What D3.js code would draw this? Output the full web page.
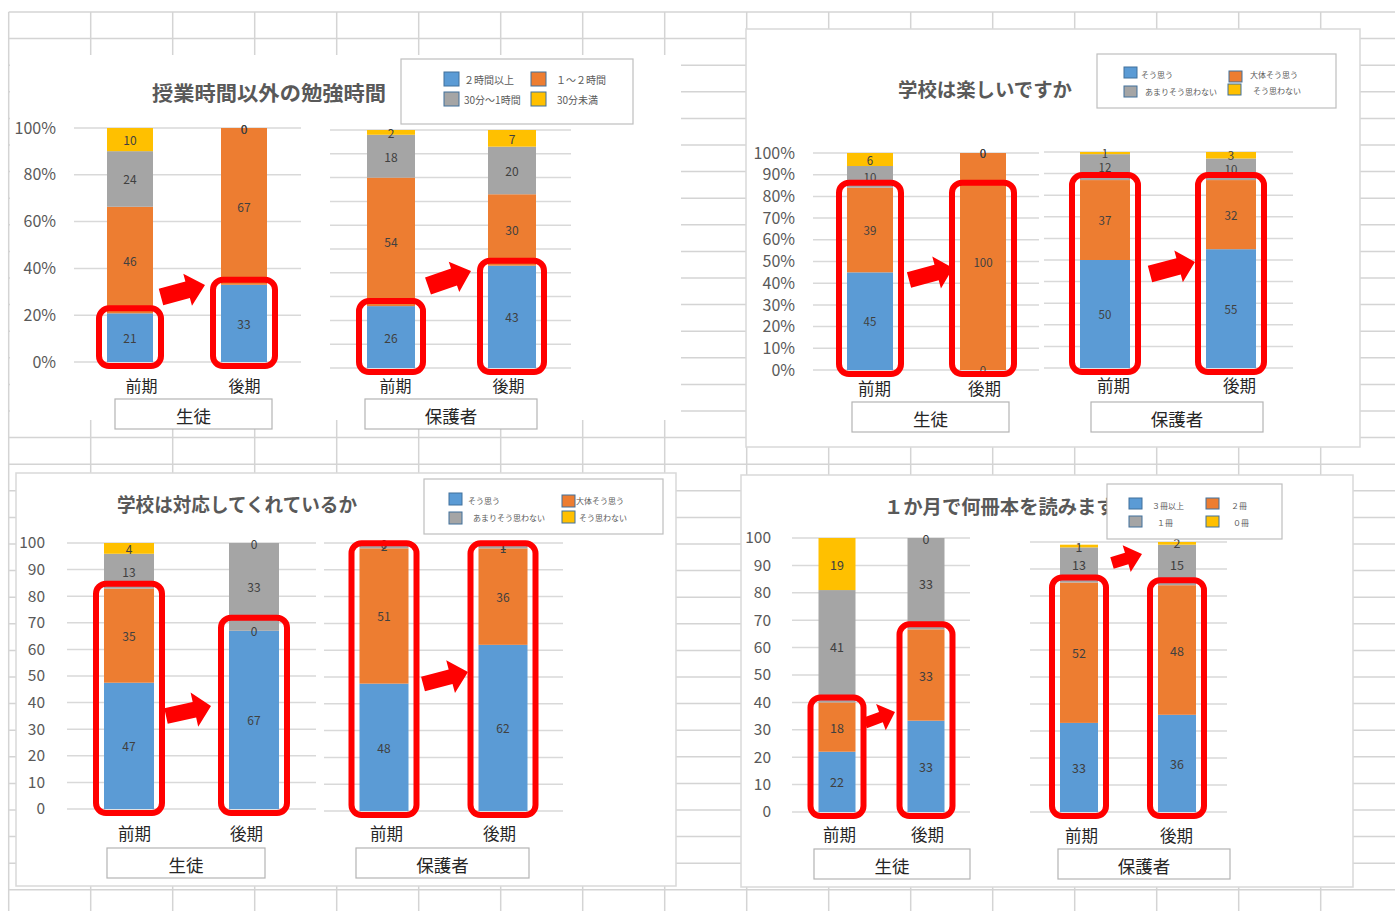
<!DOCTYPE html>
<html><head><meta charset="utf-8">
<script src="https://cdn.jsdelivr.net/npm/d3@7"></script>
<style>
html,body{margin:0;padding:0;background:#fff;}
svg{display:block;font-family:"Noto Sans CJK JP","Noto Sans",sans-serif;}
</style></head><body>
<svg id="c" width="1395" height="911"></svg>
<script>
// ---------- DATA ----------
const periods = ["前期", "後期"];
const groups = ["生徒", "保護者"];

const studyTitle = "授業時間以外の勉強時間";
const studyKeys = ["２時間以上", "１～２時間", "30分～1時間", "30分未満"];
const studyStudent = [[21, 46, 24, 10], [33, 67, 0, 0]];
const studyParent = [[26, 54, 18, 2], [43, 30, 20, 7]];

const enjoyTitle = "学校は楽しいですか";
const enjoyKeys = ["そう思う", "大体そう思う", "あまりそう思わない", "そう思わない"];
const enjoyStudent = [[45, 39, 10, 6], [0, 100, 0, 0]];
const enjoyParent = [[50, 37, 12, 1], [55, 32, 10, 3]];

const supportTitle = "学校は対応してくれているか";
const supportKeys = ["そう思う", "大体そう思う", "あまりそう思わない", "そう思わない"];
const supportStudent = [[47, 35, 13, 4], [67, 0, 33, 0]];
const supportParent = [[48, 51, 2, 0], [62, 36, 1, 1]];

const booksTitle = "１か月で何冊本を読みますか";
const booksKeys = ["３冊以上", "２冊", "１冊", "０冊"];
const booksStudent = [[22, 18, 41, 19], [33, 33, 33, 0]];
const booksParent = [[33, 52, 13, 1], [36, 48, 15, 2]];

// ---------- LAYOUT ----------
const colors = ["#5b9bd5", "#ed7d31", "#a5a5a5", "#ffc000"];
const svg = d3.select("#c");

const panels = [
  { title: studyTitle, keys: studyKeys, data: [studyStudent, studyParent],
    box: { x: 10, y: 55, w: 671, h: 365, stroke: "none" },
    titlePos: { x: 152, y: 92, len: 234, size: 20 },
    legend: { x: 401, y: 59, w: 232, h: 65, sq: [15, 14], size: 10,
      sqPos: [[444, 72], [531, 72], [444, 92], [531, 92]],
      txPos: [[464, 79], [556, 79], [464, 99], [557, 99]] },
    axisSize: 16, lblSize: 12, xlSize: 16,
    charts: [
      { x0: 74, x1: 301, y0: 362, y1: 128, step: 20, axisX: 56, pct: true, centers: [130, 244], bw: 46, norm: true, lblY: 385, lblDx: [11, 0], cat: { x: 115, y: 399, w: 157, h: 30 } },
      { x0: 330, x1: 571, y0: 368, y1: 130, step: 10, axisX: null, pct: true, centers: [391, 512], bw: 48, norm: true, lblY: 385, lblDx: [4, -4], cat: { x: 365, y: 399, w: 172, h: 30 } }
    ],
    hl: [[0, 0, 1], [0, 1, 1], [1, 0, 1], [1, 1, 1]],
    arrows: [ { t: [161, 297], h: [205, 285], s: 17, w: 33, hl: 18 },
              { t: [428, 286], h: [471, 271], s: 18, w: 32, hl: 18 } ] },

  { title: enjoyTitle, keys: enjoyKeys, data: [enjoyStudent, enjoyParent],
    box: { x: 746, y: 29, w: 614, h: 418, stroke: "#d9d9d9" },
    titlePos: { x: 898, y: 88, len: 174, size: 19 },
    legend: { x: 1097, y: 54, w: 239, h: 54, sq: [13, 11], size: 8,
      sqPos: [[1124, 67], [1229, 71], [1124, 86], [1228, 84]],
      txPos: [[1141, 74], [1250, 74], [1145, 91], [1253, 90]] },
    axisSize: 16, lblSize: 11.5, xlSize: 16.5,
    charts: [
      { x0: 813, x1: 1039, y0: 370, y1: 153, step: 10, axisX: 795, pct: true, centers: [870, 983], bw: 46, norm: true, lblY: 388, lblDx: [4, 1], cat: { x: 852, y: 402, w: 157, h: 30 } },
      { x0: 1044, x1: 1293, y0: 368, y1: 152, step: 10, axisX: null, pct: true, centers: [1105, 1231], bw: 50, norm: true, lblY: 385, lblDx: [8, 8], cat: { x: 1091, y: 402, w: 172, h: 30 } }
    ],
    hl: [[0, 0, 2], [0, 1, 2, 84], [1, 0, 2], [1, 1, 2]],
    arrows: [ { t: [909, 280], h: [953, 268], s: 16, w: 33, hl: 17 },
              { t: [1150, 274], h: [1195, 262], s: 17, w: 33, hl: 17 } ] },

  { title: supportTitle, keys: supportKeys, data: [supportStudent, supportParent],
    box: { x: 16, y: 473, w: 660, h: 413, stroke: "#d9d9d9" },
    titlePos: { x: 117, y: 503, len: 240, size: 19 },
    legend: { x: 424, y: 479, w: 239, h: 55, sq: [13, 12], size: 8,
      sqPos: [[449, 493], [562, 495], [449, 512], [562, 511]],
      txPos: [[468, 500], [576, 500], [473, 517], [579, 517]] },
    axisSize: 15.5, lblSize: 12, xlSize: 16.5,
    charts: [
      { x0: 67, x1: 316, y0: 809, y1: 543, step: 10, axisX: 45, pct: false, centers: [129, 254], bw: 50, norm: true, lblY: 833, lblDx: [5, -8], cat: { x: 107, y: 848, w: 158, h: 30 } },
      { x0: 324, x1: 563, y0: 811, y1: 543, step: 10, axisX: null, pct: false, centers: [384, 503], bw: 49, norm: true, lblY: 833, lblDx: [2, -4], cat: { x: 356, y: 848, w: 173, h: 30 } }
    ],
    hl: [[0, 0, 2], [0, 1, 2, 70], [1, 0, 2], [1, 1, 2]],
    arrows: [ { t: [166, 716], h: [211, 706], s: 16, w: 35, hl: 17 },
              { t: [423, 684], h: [468, 672], s: 15, w: 34, hl: 18 } ] },

  { title: booksTitle, keys: booksKeys, data: [booksStudent, booksParent],
    box: { x: 741, y: 475, w: 612, h: 412, stroke: "#d9d9d9" },
    titlePos: { x: 884, y: 505, len: 251, size: 19 },
    legend: { x: 1107, y: 484, w: 175, h: 55, sq: [13, 11], size: 8,
      sqPos: [[1129, 498], [1206, 498], [1129, 516], [1206, 516]],
      txPos: [[1152, 505], [1231, 505], [1157, 522], [1233, 522]] },
    axisSize: 15.5, lblSize: 12.5, xlSize: 16.5,
    charts: [
      { x0: 792, x1: 970, y0: 812, y1: 538, step: 10, axisX: 771, pct: false, centers: [837, 926], bw: 37, norm: true, lblY: 834, lblDx: [2, 1], cat: { x: 814, y: 849, w: 156, h: 30 } },
      { x0: 1030, x1: 1227, y0: 812, y1: 542, step: 10, axisX: null, pct: false, centers: [1079, 1177], bw: 38, norm: false, lblY: 835, lblDx: [2, -1], cat: { x: 1058, y: 849, w: 172, h: 30 } }
    ],
    hl: [[0, 0, 2], [0, 1, 2], [1, 0, 2], [1, 1, 2]],
    arrows: [ { t: [865, 723], h: [895, 712], s: 11, w: 28, hl: 15 },
              { t: [1112, 563], h: [1142, 554], s: 12, w: 28, hl: 16 } ] }
];

// ---------- BACKGROUND SPREADSHEET GRID ----------
const bg = svg.append("g");
bg.append("rect").attr("width", 1395).attr("height", 911).attr("fill", "#fff");
const colX = d3.range(0, 18).map(i => 8.7 + 82 * i);
const rowY = d3.range(0, 34).map(i => 12 + 26.6 * i);
bg.selectAll("line.v").data(colX).join("line")
  .attr("x1", d => d).attr("x2", d => d).attr("y1", 12).attr("y2", 911)
  .attr("stroke", "#d4d4d4").attr("stroke-width", 1.5);
bg.selectAll("line.h").data(rowY).join("line")
  .attr("x1", 8.7).attr("x2", 1395).attr("y1", d => d).attr("y2", d => d)
  .attr("stroke", "#d4d4d4").attr("stroke-width", 1.5);

// ---------- HELPERS ----------
function stackBar(vals, norm) {
  const k = norm ? 100 / d3.sum(vals) : 1;
  let acc = 0;
  return vals.map((v, i) => { const a = acc; acc += v * k; return { i, v, y0: a, y1: acc }; });
}
function arrowShape(a) {
  const dx = a.h[0] - a.t[0], dy = a.h[1] - a.t[1];
  const L = Math.hypot(dx, dy), ang = Math.atan2(dy, dx) * 180 / Math.PI;
  const p = d3.path();
  p.moveTo(0, -a.s / 2); p.lineTo(L - a.hl, -a.s / 2); p.lineTo(L - a.hl, -a.w / 2);
  p.lineTo(L, 0); p.lineTo(L - a.hl, a.w / 2); p.lineTo(L - a.hl, a.s / 2); p.lineTo(0, a.s / 2); p.closePath();
  return { d: p.toString(), tr: `translate(${a.t[0]},${a.t[1]}) rotate(${ang})` };
}

// ---------- PANELS ----------
panels.forEach(P => {
  const g = svg.append("g");
  g.append("rect").attr("x", P.box.x).attr("y", P.box.y).attr("width", P.box.w).attr("height", P.box.h)
    .attr("fill", "#fff").attr("stroke", P.box.stroke).attr("stroke-width", 1.5);

  // title
  g.append("text").attr("x", P.titlePos.x).attr("y", P.titlePos.y)
    .attr("dominant-baseline", "central").attr("font-size", P.titlePos.size).attr("font-weight", 700)
    .attr("fill", "#595959").attr("textLength", P.titlePos.len).attr("lengthAdjust", "spacingAndGlyphs")
    .text(P.title);

  const scales = [];
  P.charts.forEach((C, ci) => {
    const y = d3.scaleLinear().domain([0, 100]).range([C.y0, C.y1]).clamp(true);
    const x = d3.scalePoint().domain(periods).range(C.centers);
    scales.push({ x, y, C });
    const ticks = d3.range(0, 100 + 1e-9, C.step);

    // gridlines
    g.append("g").selectAll("line").data(ticks).join("line")
      .attr("x1", C.x0).attr("x2", C.x1).attr("y1", d => y(d)).attr("y2", d => y(d))
      .attr("stroke", "#d9d9d9").attr("stroke-width", 1.5);

    // y axis labels
    if (C.axisX !== null) {
      const ax = g.append("g").attr("transform", `translate(${C.axisX},0)`)
        .call(d3.axisLeft(y).tickValues(ticks).tickSize(0).tickPadding(0)
          .tickFormat(d => C.pct ? d + "%" : d));
      ax.select(".domain").remove();
      ax.selectAll("text").attr("font-size", P.axisSize).attr("fill", "#595959")
        .attr("font-family", "'Noto Sans CJK JP', sans-serif");
    }

    // bars
    const rows = P.data[ci].map((vals, pi) => ({ p: periods[pi], segs: stackBar(vals, C.norm) }));
    const bars = g.append("g").selectAll("g").data(rows).join("g");
    bars.selectAll("rect").data(r => r.segs.map(s => ({ ...s, p: r.p }))).join("rect")
      .attr("x", d => x(d.p) - C.bw / 2).attr("width", C.bw)
      .attr("y", d => y(d.y1)).attr("height", d => Math.max(0, y(d.y0) - y(d.y1)))
      .attr("fill", d => colors[d.i]);
    bars.selectAll("text").data(r => r.segs.map(s => ({ ...s, p: r.p }))).join("text")
      .attr("x", d => x(d.p)).attr("y", d => y((d.y0 + d.y1) / 2))
      .attr("text-anchor", "middle").attr("dominant-baseline", "central")
      .attr("font-size", P.lblSize).attr("fill", "#404040")
      .text(d => d.v);

    // x axis labels
    const xa = g.append("g").attr("transform", `translate(0,${C.lblY})`)
      .call(d3.axisBottom(x).tickSize(0).tickPadding(0));
    xa.select(".domain").remove();
    xa.selectAll(".tick text").attr("font-size", P.xlSize).attr("fill", "#262626")
      .attr("font-family", "'Noto Sans CJK JP', sans-serif")
      .attr("dy", null).attr("y", 0).attr("dominant-baseline", "central")
      .attr("dx", (d, i) => C.lblDx[i]);

    // category box
    g.append("rect").attr("x", C.cat.x).attr("y", C.cat.y).attr("width", C.cat.w).attr("height", C.cat.h)
      .attr("fill", "#fff").attr("stroke", "#b4b4b4").attr("stroke-width", 1.2);
    g.append("text").attr("x", C.cat.x + C.cat.w / 2).attr("y", C.cat.y + C.cat.h / 2 + 1)
      .attr("text-anchor", "middle").attr("dominant-baseline", "central")
      .attr("font-size", 17.5).attr("fill", "#262626").text(groups[ci]);
  });

  // legend
  const L = P.legend;
  const lg = g.append("g");
  lg.append("rect").attr("x", L.x).attr("y", L.y).attr("width", L.w).attr("height", L.h)
    .attr("fill", "#fff").attr("stroke", "#bfbfbf").attr("stroke-width", 1.2);
  lg.selectAll("rect.sw").data(P.keys).join("rect").attr("class", "sw")
    .attr("x", (d, i) => L.sqPos[i][0]).attr("y", (d, i) => L.sqPos[i][1])
    .attr("width", L.sq[0]).attr("height", L.sq[1])
    .attr("fill", (d, i) => colors[i]).attr("stroke", "#41719c").attr("stroke-width", 1);
  lg.selectAll("text").data(P.keys).join("text")
    .attr("x", (d, i) => L.txPos[i][0]).attr("y", (d, i) => L.txPos[i][1])
    .attr("dominant-baseline", "central").attr("font-size", L.size).attr("fill", "#595959")
    .text(d => d);

  // red highlight rectangles (derived from the scales)
  const hg = g.append("g");
  P.hl.forEach(([ci, pi, n, topOverride]) => {
    const { x, y, C } = scales[ci];
    const segs = stackBar(P.data[ci][pi], C.norm);
    const top = topOverride !== undefined ? topOverride : segs[n - 1].y1;
    const bx = x(periods[pi]);
    hg.append("rect")
      .attr("x", bx - C.bw / 2 - 8).attr("width", C.bw + 16)
      .attr("y", y(top) - 5).attr("height", y(0) - y(top) + 9)
      .attr("rx", 10).attr("ry", 10)
      .attr("fill", "none").attr("stroke", "#ff0000").attr("stroke-width", 6);
  });

  // red arrows
  P.arrows.forEach(a => {
    const s = arrowShape(a);
    g.append("path").attr("d", s.d).attr("transform", s.tr).attr("fill", "#ff0000");
  });
});
</script>
</body></html>
